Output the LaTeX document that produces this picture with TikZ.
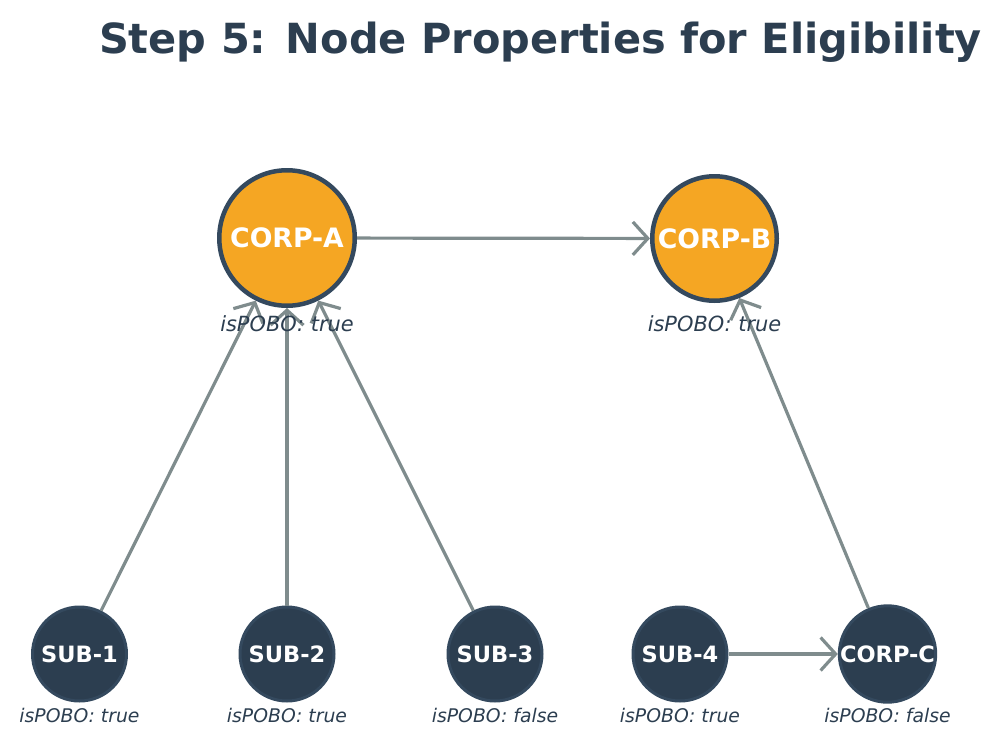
\documentclass[tikz,border=0pt]{standalone}
\usepackage{fontspec}
\setmainfont{DejaVu Sans}
\usetikzlibrary{arrows.meta}
\definecolor{navy}{HTML}{2C3E50}
\definecolor{rimc}{HTML}{34495E}
\definecolor{orng}{HTML}{F5A623}
\definecolor{edgec}{HTML}{7F8C8D}
\tikzset{
  bigorg/.style={circle, fill=orng, draw=rimc, line width=4.5pt, inner sep=0pt, text=white,
    font=\fontsize{26.7}{30}\selectfont\bfseries},
  smalldark/.style={circle, fill=navy, draw=rimc, line width=3pt, inner sep=0pt, minimum size=94pt, text=white,
    font=\fontsize{22.5}{26}\selectfont\bfseries},
  toplab/.style={anchor=base, inner sep=0pt, text=navy, font=\fontsize{20.9}{24}\selectfont\itshape},
  botlab/.style={anchor=base, inner sep=0pt, text=navy, font=\fontsize{18.8}{22}\selectfont\itshape},
  link/.style={draw=edgec, line width=3.2pt, -{Straight Barb[length=15pt,width=33pt]}}
}
\begin{document}
\begin{tikzpicture}[x=1pt,y=-1pt]
\useasboundingbox (0,0) rectangle (1001,744);
\node[anchor=base, inner sep=0pt, text=navy, font=\fontsize{41.5}{46}\selectfont\bfseries] (title) at (540.5,53.5) {Step 5: Node Properties for Eligibility};
% nodes
\node[bigorg, minimum size=135.5pt] (ca) at (287,238) {CORP-A};
\node[bigorg, minimum size=124.5pt] (cb) at (714.5,238.5) {CORP-B};
\node[smalldark] (s1) at (79.5,654) {SUB-1};
\node[smalldark] (s2) at (287,654) {SUB-2};
\node[smalldark] (s3) at (495,654) {SUB-3};
\node[smalldark] (s4) at (680,654) {SUB-4};
\node[smalldark] (cc) at (887.5,654) {CORP-C};
% edges
\draw[link] (ca) -- (cb);
\draw[link] (s1) -- (ca);
\draw[link] (s2) -- (ca);
\draw[link] (s3) -- (ca);
\draw[link] (cc) -- (cb);
\draw[link] (s4) -- (cc);
% labels
\node[toplab] (la) at (287,331.7) {isPOBO: true};
\node[toplab] (lb) at (714.5,331.7) {isPOBO: true};
\node[botlab] (l1) at (79.5,722.7) {isPOBO: true};
\node[botlab] (l2) at (287,722.7) {isPOBO: true};
\node[botlab] (l3) at (495,722.7) {isPOBO: false};
\node[botlab] (l4) at (680,722.7) {isPOBO: true};
\node[botlab] (lc) at (887.5,722.7) {isPOBO: false};
\end{tikzpicture}
\end{document}
